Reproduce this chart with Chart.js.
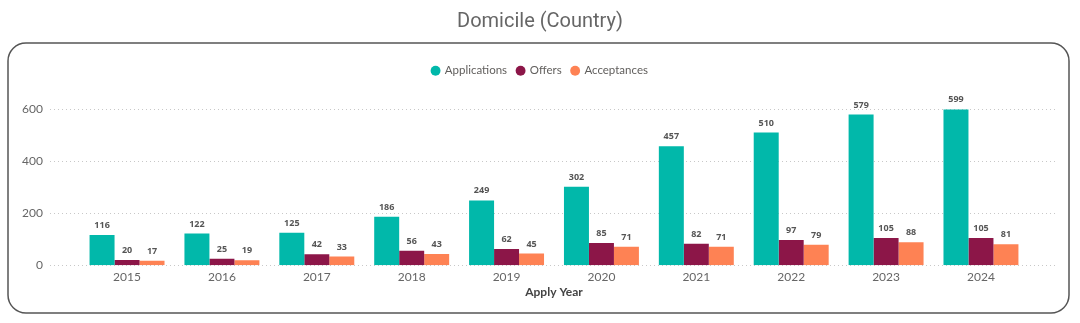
<!DOCTYPE html>
<html>
<head>
<meta charset="utf-8">
<script src="https://cdn.jsdelivr.net/npm/chart.js@4/dist/chart.umd.min.js"></script>
<style>
  html, body { margin: 0; padding: 0; background: #fff; }
  #wrap { position: relative; width: 1080px; height: 323px; }
</style>
</head>
<body>
<div id="wrap"><canvas id="domicileChart" width="1080" height="323"></canvas></div>
<script>
// ===== Domicile (Country) chart =====

const years = ['2015', '2016', '2017', '2018', '2019', '2020', '2021', '2022', '2023', '2024'];
const applications = [116, 122, 125, 186, 249, 302, 457, 510, 579, 599];
const offers = [20, 25, 42, 56, 62, 85, 82, 97, 105, 105];
const acceptances = [17, 19, 33, 43, 45, 71, 71, 79, 88, 81];
const yTicks = [0, 200, 400, 600];

const colors = ['#01B8AA', '#8C1648', '#FE8254'];

// rounded frame behind the plot
const framePlugin = {
    id: 'frame',
    beforeDraw(chart) {
        const ctx = chart.ctx;
        const x = 8, y = 43, w = 1061, h = 270, r = 18;
        ctx.save();
        ctx.beginPath();
        ctx.moveTo(x + r, y);
        ctx.arcTo(x + w, y, x + w, y + h, r);
        ctx.arcTo(x + w, y + h, x, y + h, r);
        ctx.arcTo(x, y + h, x, y, r);
        ctx.arcTo(x, y, x + w, y, r);
        ctx.closePath();
        ctx.lineWidth = 1.5;
        ctx.strokeStyle = '#555';
        ctx.stroke();
        ctx.restore();
    }
};

// dotted gridlines, wider than the category band
const gridPlugin = {
    id: 'dotGrid',
    beforeDatasetsDraw(chart) {
        const ctx = chart.ctx;
        const yScale = chart.scales.y;
        ctx.save();
        ctx.strokeStyle = '#c8c8c8';
        ctx.lineWidth = 1;
        ctx.setLineDash([1, 3]);
        yTicks.forEach(v => {
            const py = Math.round(yScale.getPixelForValue(v)) + 0.5;
            ctx.beginPath();
            ctx.moveTo(50, py);
            ctx.lineTo(1057, py);
            ctx.stroke();
        });
        ctx.restore();
    }
};

// value labels above bars
const labelPlugin = {
    id: 'barLabels',
    afterDatasetsDraw(chart) {
        const ctx = chart.ctx;
        ctx.save();
        ctx.font = 'bold 9px "Open Sans", sans-serif';
        ctx.fillStyle = '#555';
        ctx.textAlign = 'center';
        ctx.textBaseline = 'bottom';
        chart.data.datasets.forEach((ds, i) => {
            chart.getDatasetMeta(i).data.forEach((bar, j) => {
                ctx.fillText(ds.data[j], bar.x, bar.y - 5);
            });
        });
        ctx.restore();
    }
};

const ctx = document.getElementById('domicileChart').getContext('2d');

new Chart(ctx, {
    type: 'bar',
    data: {
        labels: years,
        datasets: [{
            label: 'Applications',
            data: applications,
            backgroundColor: colors[0]
        }, {
            label: 'Offers',
            data: offers,
            backgroundColor: colors[1]
        }, {
            label: 'Acceptances',
            data: acceptances,
            backgroundColor: colors[2]
        }]
    },
    options: {
        responsive: false,
        animation: false,
        datasets: {
            bar: { categoryPercentage: 0.79, barPercentage: 1.0 }
        },
        layout: {
            padding: { left: 8, right: 8, top: 0, bottom: 24 }
        },
        plugins: {
            title: {
                display: true,
                text: 'Domicile (Country)',
                color: '#666',
                font: { family: 'Roboto', size: 20, weight: 'normal' },
                padding: { top: 10, bottom: 21 }
            },
            legend: {
                position: 'top',
                labels: {
                    usePointStyle: true,
                    pointStyle: 'circle',
                    boxWidth: 7,
                    boxHeight: 7,
                    padding: 10,
                    color: '#605E5C',
                    font: { family: 'Lato', size: 11.5 }
                }
            },
            tooltip: { enabled: false }
        },
        scales: {
            x: {
                grid: { display: false, drawTicks: false },
                border: { display: false },
                ticks: {
                    color: '#666',
                    padding: 5,
                    font: { family: 'Lato', size: 12 }
                },
                title: {
                    display: true,
                    text: 'Apply Year',
                    color: '#444',
                    padding: { top: -5, bottom: 0 },
                    font: { family: 'Lato', size: 12, weight: 'bold' }
                }
            },
            y: {
                min: 0,
                max: 687,
                grid: { display: false, drawTicks: false },
                border: { display: false },
                afterFit: scale => { scale.width = 71.6; },
                ticks: {
                    stepSize: 200,
                    color: '#666',
                    padding: 36.6,
                    font: { family: 'Lato', size: 12 },
                    callback: v => (yTicks.includes(v) ? v : '')
                }
            },
            // empty right-hand spacer so the plot sits where the original does
            yRight: {
                position: 'right',
                grid: { display: false, drawTicks: false },
                border: { display: false },
                ticks: { display: false },
                afterFit: scale => { scale.width = 43.6; }
            }
        }
    },
    plugins: [framePlugin, gridPlugin, labelPlugin]
});
</script>
</body>
</html>
